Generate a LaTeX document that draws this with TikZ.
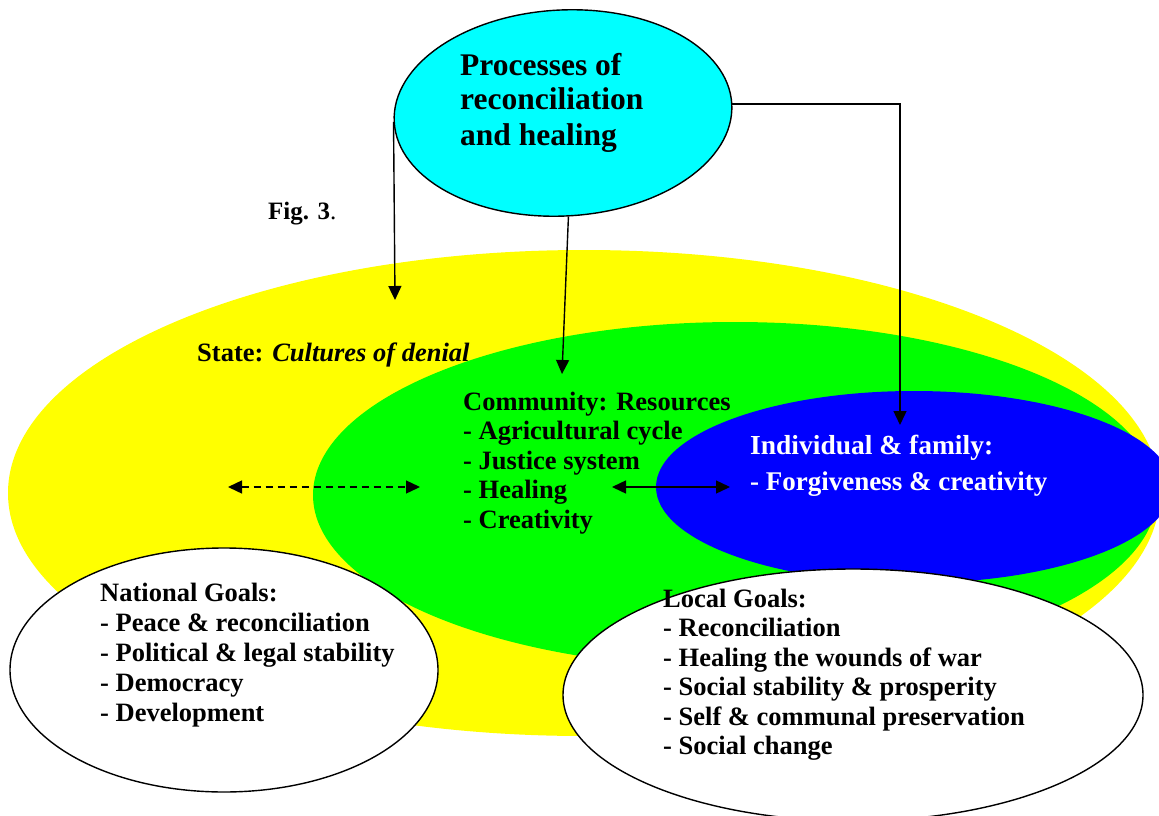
\documentclass[tikz,border=0pt]{standalone}
\usepackage{fontspec}
\setmainfont{Liberation Serif}
\usetikzlibrary{arrows.meta,shapes.geometric}
\definecolor{ylw}{RGB}{255,255,0}
\definecolor{grn}{RGB}{0,255,0}
\definecolor{blu}{RGB}{0,0,255}
\definecolor{cyn}{RGB}{0,255,255}
\begin{document}
\begin{tikzpicture}[x=1pt,y=-1pt,
  blob/.style={ellipse, inner sep=0pt, draw=none},
  outl/.style={ellipse, inner sep=0pt, draw=black, line width=1.4pt, fill=white},
  txt/.style={font=\bfseries\fontsize{26.5}{29.5}\selectfont, anchor=base west, inner sep=0pt},
  ttl/.style={font=\bfseries\fontsize{31.5}{35}\selectfont, anchor=base west, inner sep=0pt},
  arr/.style={line width=1.4pt, -{Triangle[length=14pt,width=13pt]}},
  dbl/.style={line width=1.4pt, {Triangle[length=14pt,width=13pt]}-{Triangle[length=14pt,width=13pt]}},
  dsh/.style={dash pattern=on 7pt off 5pt}]
\useasboundingbox (0,0) rectangle (1159,816);
\clip (0,0) rectangle (1159,816);
% nested areas
\node[blob, fill=ylw, minimum width=1152pt, minimum height=486pt] (state) at (584,493) {};
\node[blob, fill=grn, minimum width=844pt, minimum height=346pt] (comm) at (735,495) {};
\node[blob, fill=blu, minimum width=516pt, minimum height=192pt] (indiv) at (914,487) {};
% goals
\node[outl, minimum width=428pt, minimum height=244pt] (natg) at (224,670) {};
\node[outl, minimum width=580pt, minimum height=252pt] (locg) at (853,695) {};
% processes
\node[outl, fill=cyn, minimum width=338pt, minimum height=206pt, rotate=3] (proc) at (563,113) {};
% titles
\node[ttl] (p1) at (460,75) {Processes of};
\node[ttl] (p2) at (460,110) {reconciliation};
\node[ttl] (p3) at (460,145) {and healing};
\node[txt, font=\fontsize{25}{28}\selectfont] (fig) at (268,219) {\textbf{Fig. 3}.};
\node[txt] (statet) at (197,361) {State: \textit{Cultures of denial}};
\foreach \t [count=\i] in {Community: Resources, - Agricultural cycle, - Justice system, - Healing, - Creativity}
  \node[txt] (c\i) at (463,{410+29.5*(\i-1)}) {\t};
\node[txt, text=white, font=\bfseries\fontsize{27.5}{30}\selectfont] (i1) at (750,454) {Individual \& family:};
\node[txt, text=white, font=\bfseries\fontsize{27}{30}\selectfont] (i2) at (750,490) {- Forgiveness \& creativity};
\foreach \t [count=\i] in {National Goals:, - Peace \& reconciliation, - Political \& legal stability, - Democracy, - Development}
  \node[txt] (n\i) at (100,{601+30.2*(\i-1)}) {\t};
\foreach \t [count=\i] in {Local Goals:, - Reconciliation, - Healing the wounds of war, - Social stability \& prosperity, - Self \& communal preservation, - Social change}
  \node[txt] (l\i) at (663,{607+29.5*(\i-1)}) {\t};
% connectors
\coordinate (t1) at (395,300);
\coordinate (t2) at (562,374);
\coordinate (t3) at (900,425);
\draw[arr] (proc.west) -- (t1);
\draw[arr] (proc.south) -- (t2);
\draw[arr] (proc.east) -| (t3);
\coordinate (d1) at (228,487);
\coordinate (d2) at (420,487);
\coordinate (s1) at (612,487);
\coordinate (s2) at (730,487);
\draw[dbl, dsh] (d1) -- (d2);
\draw[dbl] (s1) -- (s2);
\end{tikzpicture}
\end{document}
